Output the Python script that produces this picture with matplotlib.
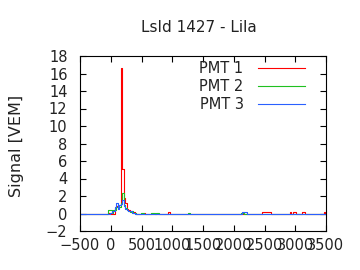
import numpy as np
import matplotlib
matplotlib.use('Agg')
import matplotlib.pyplot as plt

# trace times [ns], 25 ns bins
t_start, t_stop, t_step = -500, 3500, 25

# pulse window -50 .. 450 ns
pulse_t = [-50, -25, 0, 25, 50, 75, 100, 125, 150, 175, 200,
           225, 250, 275, 300, 325, 350, 375, 400, 425, 450]
pmt1_pulse = [0, 0.1, -0.1, -0.1, -0.1, 0.6, 0.9, 0.8, 1.0, 16.6, 5.1,
              1.8, 1.2, 0.5, 0.4, 0.3, 0.2, 0.2, 0.1, 0, 0]
pmt2_pulse = [0, 0.4, 0.4, 0.1, 0.4, 0.4, 0.7, 0.7, 0.8, 1.2, 2.4,
              1.0, 0.6, 0.4, 0.3, 0.2, 0.3, 0.1, 0.1, -0.1, -0.1]
pmt3_pulse = [0, 0, 0.1, 0.25, 0.25, 0.8, 1.2, 0.5, 1.0, 1.1, 1.5,
              0.9, 0.5, 0.4, 0.3, 0.25, 0.1, 0.1, 0, 0, 0]

# small blips further along the trace (time, signal)
pmt1_blips = [(550, 0.1), (950, 0.15), (2475, 0.15), (2500, 0.15), (2525, 0.15),
              (2550, 0.15), (2575, 0.15), (2600, 0.15), (2925, 0.15),
              (2975, 0.15), (3000, 0.15), (3125, 0.15), (3150, 0.15), (3475, 0.15)]
pmt2_blips = [(500, 0.1), (525, 0.1), (675, 0.1), (700, 0.1), (750, 0.1),
              (775, 0.1), (1275, 0.1), (2125, 0.1), (2150, 0.1), (2200, -0.1)]
pmt3_blips = [(2150, 0.15), (2175, 0.15), (2200, 0.15)]


def build(pulse, blips):
    t = np.arange(t_start, t_stop + t_step, t_step)
    s = np.zeros(len(t))
    for tt, v in zip(pulse_t, pulse):
        s[np.searchsorted(t, tt)] = v
    for tt, v in blips:
        s[np.searchsorted(t, tt)] = v
    return t, s


series = [
    ("PMT 1", pmt1_pulse, pmt1_blips, "#ff0000"),
    ("PMT 2", pmt2_pulse, pmt2_blips, "#20c020"),
    ("PMT 3", pmt3_pulse, pmt3_blips, "#2a60ff"),
]

plt.rcParams['font.family'] = ['DejaVu Sans']
txt = '#222222'
fig = plt.figure(figsize=(3.6, 2.7), dpi=100)
ax = fig.add_axes([80 / 360, 1 - 231 / 270, 246 / 360, 175 / 270])

for i, (name, pulse, blips, col) in enumerate(series):
    t, s = build(pulse, blips)
    ax.plot(t, s, drawstyle='steps-mid', color=col, lw=0.8)
    y = 0.931 - i * 0.103
    ax.text(0.665, y, name, transform=ax.transAxes, ha='right', va='center',
            fontsize=10.5, color=txt)
    ax.plot([0.724, 0.915], [y, y], transform=ax.transAxes, color=col, lw=0.8)

ax.set_xlim(-500, 3500)
ax.set_ylim(-2, 18)
ax.set_xticks(range(-500, 3501, 500))
ax.set_yticks(range(-2, 19, 2))
ax.tick_params(direction='in', length=4, width=0.8, top=True, right=True,
               labelsize=10.5, labelcolor=txt)
ax.tick_params(axis='y', pad=9)
ax.tick_params(axis='x', pad=5)
for sp in ax.spines.values():
    sp.set_linewidth(0.8)

fig.text(17 / 360, 1 - 146 / 270, "Signal [VEM]", rotation=90, ha='center',
         va='center', fontsize=11.5, color=txt)
fig.text(199 / 360, 1 - 28 / 270, "LsId 1427 - Lila", ha='center', va='center',
         fontsize=11, color=txt)

fig.savefig("out.png", dpi=100)
